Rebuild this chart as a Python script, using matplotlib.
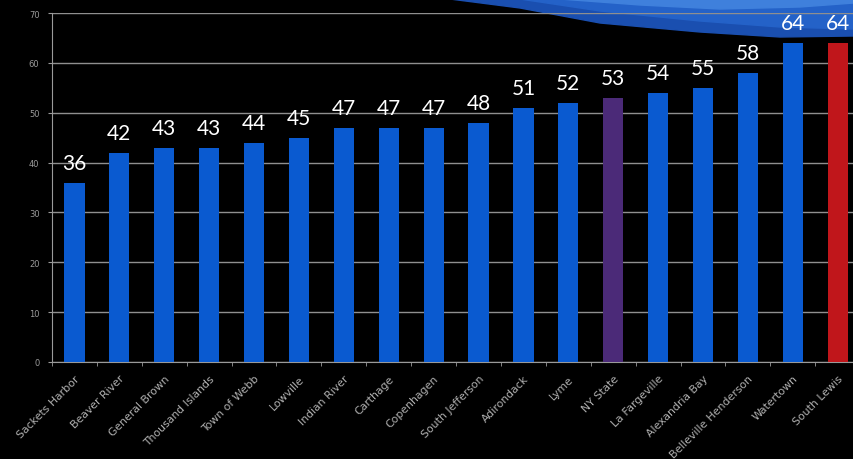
import matplotlib
matplotlib.use("Agg")
import matplotlib.pyplot as plt
from matplotlib.patches import Polygon
import numpy as np

towns = [
    "Sackets Harbor", "Beaver River", "General Brown", "Thousand Islands",
    "Town of Webb", "Lowville", "Indian River", "Carthage", "Copenhagen",
    "South Jefferson", "Adirondack", "Lyme", "NY State", "La Fargeville",
    "Alexandria Bay", "Belleville Henderson", "Watertown", "South Lewis",
]
scores = [36, 42, 43, 43, 44, 45, 47, 47, 47, 48, 51, 52, 53, 54, 55, 58, 64, 64]
bar_colors = ["#0a5ad0"] * 12 + ["#4b2a78"] + ["#0a5ad0"] * 4 + ["#c0161b"]
y_ticks = [0, 10, 20, 30, 40, 50, 60, 70]

W, H = 854, 460
fig = plt.figure(figsize=(W / 100, H / 100), dpi=100, facecolor="black")


def fig_poly(pts, color):
    # pts in pixel coords from the top-left corner
    return Polygon([(px / W, 1 - py / H) for px, py in pts], closed=True,
                   transform=fig.transFigure, color=color, zorder=0)


# decorative swoosh, top right
fig.patches.extend([
    fig_poly([(450, 0), (520, 9), (600, 24), (700, 33), (780, 38), (854, 37),
              (854, 0)], "#1a4fb0"),
    fig_poly([(520, 0), (600, 12), (700, 22), (780, 28), (854, 30), (854, 0)],
             "#2462c8"),
    fig_poly([(560, 0), (640, 6), (720, 10), (800, 8), (854, 4), (854, 0)],
             "#3f80dc"),
])

x = np.arange(len(towns))
left, bottom_px, top_px = 52, 363, 14
ax = fig.add_axes([left / W, (H - bottom_px) / H,
                   (18 * 44.9) / W, (bottom_px - top_px) / H])
ax.set_facecolor("none")
ax.set_zorder(2)

ax.bar(x, scores, width=0.45, color=bar_colors, zorder=3)
for xi, v in zip(x, scores):
    ax.text(xi, v + 2.0, str(v), ha="center", va="bottom", color="white",
            fontsize=15, family="Lato", zorder=4, clip_on=False)

ax.set_xlim(-0.5, len(towns) - 0.5)
ax.set_ylim(0, 70)
ax.set_yticks(y_ticks)
ax.set_yticklabels([str(t) for t in y_ticks], color="#9a9a9a", fontsize=6)
ax.yaxis.grid(True, color="#8f8f8f", linewidth=1.0, zorder=1)

ax.set_xticks(x)
ax.set_xticklabels(towns, rotation=45, ha="right", rotation_mode="anchor",
                   color="#b0b0b0", fontsize=7.8)
ax.tick_params(axis="x", length=0, pad=8)
ax.set_xticks(np.arange(-0.5, len(towns), 1), minor=True)
ax.tick_params(axis="x", which="minor", length=3, color="#9a9a9a")
ax.tick_params(axis="y", length=3, color="#9a9a9a", pad=6)

for s in ["top", "right"]:
    ax.spines[s].set_visible(False)
ax.spines["left"].set_color("#9a9a9a")
ax.spines["bottom"].set_color("#9a9a9a")

fig.savefig("out.png", dpi=100, facecolor="black")
